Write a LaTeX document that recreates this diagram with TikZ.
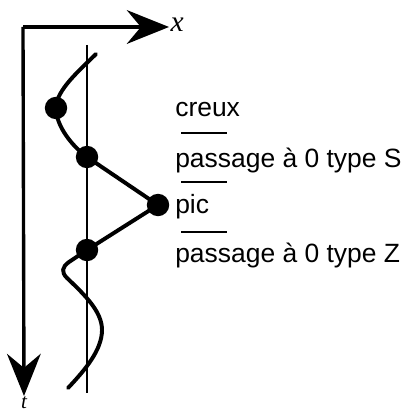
\documentclass[tikz,border=0pt]{standalone}
\usepackage{fontspec}
\newfontfamily\labelfont{Liberation Sans}
\newfontfamily\axisfont{Liberation Serif}
\usetikzlibrary{arrows.meta,positioning}

\begin{document}
\begin{tikzpicture}[
    x=0.025cm, y=-0.025cm,
    axisline/.style={line width=2.4pt, arrows={-Stealth[length=30pt, width=24pt, inset=10pt]}},
    zero/.style={line width=0.9pt},
    signal/.style={line width=2.8pt, line cap=round, line join=round},
    dot/.style={circle, fill=black, inner sep=0pt, minimum size=0.56cm},
    event/.style={anchor=base west, inner sep=0pt, font=\labelfont\fontsize{18.8}{22}\selectfont},
    sep/.style={line width=1.1pt}
]
    \useasboundingbox (0,0) rectangle (403,412);

    % axes
    \coordinate (O) at (23,27);
    \node[inner sep=1pt, anchor=west, font=\axisfont\itshape\fontsize{21}{24}\selectfont] (xlab) at (169,25) {x};
    \node[inner sep=0.5pt, anchor=north, font=\axisfont\itshape\fontsize{15}{17}\selectfont] (tlab) at (24,396) {t};
    \draw[axisline] (O) -- (xlab.west |- O);
    \draw[axisline] (O) -- (tlab.north);

    % zero line
    \coordinate (ztop) at (87,45);
    \coordinate (zbot) at (87,393);
    \draw[zero] (ztop) -- (zbot);

    % events on the signal
    \node[dot] (creux) at (56,108) {};
    \node[dot] (passS) at (87,157) {};
    \node[dot] (pic) at (158,205) {};
    \node[dot] (passZ) at (87,250) {};
    \coordinate (start) at (96,54);
    \coordinate (end) at (68,388);

    \draw[signal] (start) .. controls (80,70) and (56,90) .. (creux.center)
        .. controls (56,126) and (72,146) .. (passS.center)
        -- (pic.center) -- (passZ.center) -- (69,262)
        .. controls (62,267) and (61,272) .. (67,278)
        .. controls (86,296) and (102,312) .. (102,330)
        .. controls (102,350) and (85,370) .. (end);

    % labels
    \node[event] (lcreux) at (175,117) {creux};
    \node[event] (lpassS) at (175,167) {passage à 0 type S};
    \node[event] (lpic) at (175,213) {pic};
    \node[event] (lpassZ) at (175,262) {passage à 0 type Z};
    \foreach \y in {133,182,232}
        \draw[sep] (181,\y) -- (227,\y);
\end{tikzpicture}
\end{document}
